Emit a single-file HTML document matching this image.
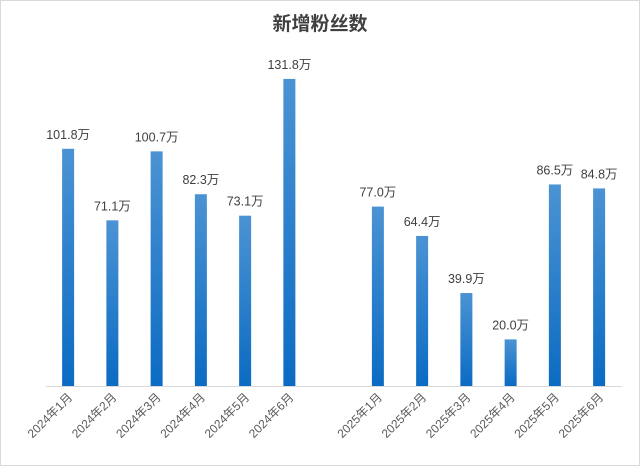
<!DOCTYPE html>
<html><head><meta charset="utf-8">
<style>
html,body{margin:0;padding:0;background:#fff;}
svg{display:block;font-family:"Liberation Sans","Noto Sans CJK SC",sans-serif;}
</style></head>
<body>
<svg id="chart" width="640" height="466" viewBox="0 0 640 466">
<defs>
<linearGradient id="barGrad" x1="0" y1="0" x2="0" y2="1">
<stop offset="0" stop-color="#4b93d3"/>
<stop offset="1" stop-color="#0b6bc3"/>
</linearGradient>
</defs>
<rect x="0.5" y="0.5" width="639" height="465" fill="#fff" stroke="#d9d9d9"/>
<text x="320" y="30" text-anchor="middle" font-size="19" font-weight="bold" fill="#404040">新增粉丝数</text>
<line x1="46" y1="386.5" x2="622" y2="386.5" stroke="#d9d9d9" stroke-width="1"/>
<g id="bars"></g>
</svg>
<script>
const categories = ["2024年1月","2024年2月","2024年3月","2024年4月","2024年5月","2024年6月","","2025年1月","2025年2月","2025年3月","2025年4月","2025年5月","2025年6月"];
const values = [101.8,71.1,100.7,82.3,73.1,131.8,null,77.0,64.4,39.9,20.0,86.5,84.8];
const valueLabels = ["101.8万","71.1万","100.7万","82.3万","73.1万","131.8万","","77.0万","64.4万","39.9万","20.0万","86.5万","84.8万"];

const plotLeft = 46, step = 44.25, baseY = 386, pxPerUnit = 2.33, barW = 12;
function xCenter(i){ return plotLeft + step*(i+0.5); }
function yPos(v){ return baseY - v*pxPerUnit; }
const ns = "http://www.w3.org/2000/svg";
const g = document.getElementById("bars");
categories.forEach((c,i)=>{
  const v = values[i];
  if (v === null) return;
  const cx = xCenter(i);
  const r = document.createElementNS(ns,"rect");
  
  
  r.setAttribute("x", cx - barW/2);
  r.setAttribute("y", yPos(v));
  r.setAttribute("width", barW);
  r.setAttribute("height", baseY - yPos(v));
  r.setAttribute("fill", "url(#barGrad)");
  g.appendChild(r);
  const t = document.createElementNS(ns,"text");
  
  
  t.setAttribute("x", cx);
  t.setAttribute("y", yPos(v) - 10);
  t.setAttribute("text-anchor", "middle");
  t.setAttribute("font-size", "12.5");
  t.setAttribute("fill", "#404040");
  t.textContent = valueLabels[i];
  g.appendChild(t);
  const l = document.createElementNS(ns,"text");
  
  
  l.setAttribute("x", 0);
  l.setAttribute("y", 0);
  l.setAttribute("text-anchor", "end");
  l.setAttribute("font-size", "12");
  l.setAttribute("fill", "#595959");
  l.setAttribute("transform", "translate(" + (cx + 5) + ",398) rotate(-45)");
  l.textContent = c;
  g.appendChild(l);
});
</script>
</body></html>
